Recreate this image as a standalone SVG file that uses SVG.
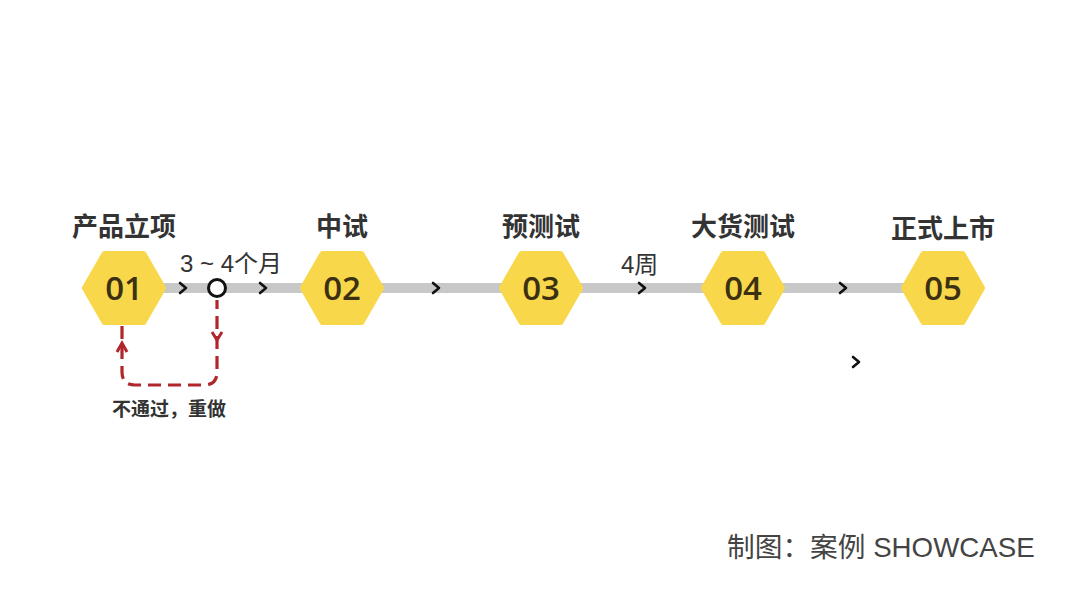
<svg xmlns="http://www.w3.org/2000/svg" width="1080" height="613" viewBox="0 0 1080 613">
<defs>
<style>
.hex{fill:#f9d74a;stroke:#f9d74a;stroke-width:6;stroke-linejoin:round}
.num{font-family:"Open Sans","Liberation Sans",sans-serif;font-size:33px;font-weight:600;fill:#3b3112;text-anchor:middle}
.ttl{font-family:"Noto Sans CJK SC",sans-serif;font-size:26px;font-weight:bold;fill:#333;text-anchor:middle}
.lbl{font-family:"Liberation Sans","Noto Sans CJK SC",sans-serif;font-size:24px;fill:#333}
.chev{fill:none;stroke:#111;stroke-width:2.6;stroke-linecap:round;stroke-linejoin:round}
.red{fill:none;stroke:#b0262b;stroke-width:3.2;stroke-dasharray:13 7}
</style>
<path id="chv" class="chev" d="M-3,-5 L3,0 L-3,5"/>
<polygon id="hx" class="hex" points="-39,0 -19.5,-34 19.5,-34 39,0 19.5,34 -19.5,34"/>
</defs>
<rect width="1080" height="613" fill="#fff"/>
<g id="connectors">
<rect x="160" y="283" width="750" height="10" fill="#c8c8c8"/>
<path class="red" d="M122,326 V372 Q122,385 135,385 H204 Q217,385 217,372 V300"/>
<path d="M117,352 L122,343 L127,352" fill="none" stroke="#b0262b" stroke-width="3"/>
<path d="M212,332 L217,340 L222,332" fill="none" stroke="#b0262b" stroke-width="3"/>
<circle cx="217" cy="288" r="8.5" fill="#fff" stroke="#111" stroke-width="3"/>
<use href="#chv" x="183" y="288"/>
<use href="#chv" x="263" y="288"/>
<use href="#chv" x="436" y="288"/>
<use href="#chv" x="642" y="288"/>
<use href="#chv" x="843" y="288"/>
<use href="#chv" x="856" y="362"/>
<text class="lbl" x="180" y="272">3 ~ 4个月</text>
<text class="lbl" x="621" y="273">4周</text>
<text x="169" y="416" font-family="Noto Sans CJK SC,sans-serif" font-size="19" font-weight="bold" fill="#333" text-anchor="middle">不通过，重做</text>
</g>
<g id="n1"><use href="#hx" x="124" y="288"/><text class="num" x="124" y="300">01</text><text class="ttl" x="124" y="236">产品立项</text></g>
<g id="n2"><use href="#hx" x="342" y="288"/><text class="num" x="342" y="300">02</text><text class="ttl" x="342" y="236">中试</text></g>
<g id="n3"><use href="#hx" x="541" y="288"/><text class="num" x="541" y="300">03</text><text class="ttl" x="541" y="236">预测试</text></g>
<g id="n4"><use href="#hx" x="743" y="288"/><text class="num" x="743" y="300">04</text><text class="ttl" x="743" y="236">大货测试</text></g>
<g id="n5"><use href="#hx" x="943" y="288"/><text class="num" x="943" y="300">05</text><text class="ttl" x="943" y="238" font-weight="normal">正式上市</text></g>
<text x="727" y="557" font-family="Liberation Sans,Noto Sans CJK SC,sans-serif" font-size="27.7" fill="#444">制图：案例 SHOWCASE</text>
</svg>
